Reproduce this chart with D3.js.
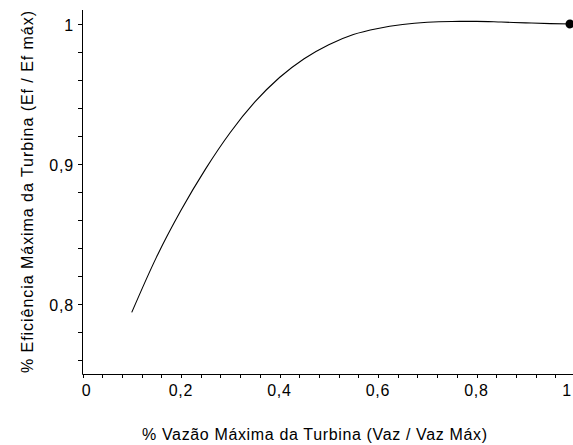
<!DOCTYPE html>
<html><head><meta charset="utf-8">
<script src="https://cdn.jsdelivr.net/npm/d3@7"></script>
<style>body{margin:0;background:#fff;overflow:hidden}svg{display:block}</style>
</head><body>
<svg id="c" width="573" height="445"></svg>
<script>
const xValues = [0.1,0.15,0.2,0.25,0.3,0.35,0.4,0.45,0.5,0.55,0.6,0.65,0.7,0.75,0.8,0.85,0.9,0.95,1.0];
const yValues = [0.794,0.8333,0.8669,0.8965,0.9225,0.9443,0.9618,0.9752,0.9852,0.9925,0.9968,0.9996,1.0012,1.0018,1.0019,1.0014,1.0008,1.0003,1.0];
const markerPoint = [1.0, 1.0];
const xTickLabels = ["0","0,2","0,4","0,6","0,8","1"];
const yTickLabels = ["0,8","0,9","1"];
const xTitle = "% Vazão Máxima da Turbina (Vaz / Vaz Máx)";
const yTitle = "% Eficiência Máxima da Turbina (Ef / Ef máx)";

const svg = d3.select("#c");
const x = d3.scaleLinear().domain([0,1]).range([82.5,575]);
const y = d3.scaleLinear().domain([0.75,1]).range([374,24]);
const font = "'Liberation Sans', Arial, sans-serif";

// axes lines
svg.append("line").attr("x1",x(0)).attr("x2",573).attr("y1",374.5).attr("y2",374.5).attr("stroke","#000");
svg.append("line").attr("x1",82.5).attr("x2",82.5).attr("y1",10).attr("y2",374.5).attr("stroke","#000");

// x ticks
const xt = d3.range(0,1.0001,0.04);
svg.selectAll(".xt").data(xt).join("line")
  .attr("x1",d=>Math.round(x(d))+0.5).attr("x2",d=>Math.round(x(d))+0.5)
  .attr("y1",374.5).attr("y2",378).attr("stroke","#000");
const xMaj = [0,0.2,0.4,0.6,0.8,1];
svg.selectAll(".xl").data(xMaj).join("text")
  .attr("x",d=> d===0 ? x(d)+4 : (d===1 ? 572 : x(d)))
  .attr("y",396)
  .attr("text-anchor",d=> d===1 ? "end" : "middle")
  .attr("font-family",font).attr("font-size",16).attr("letter-spacing",0.8).attr("fill","#000")
  .text((d,i)=>xTickLabels[i]);

// y ticks
const yt = d3.range(0.76,1.0101,0.02);
svg.selectAll(".yt").data(yt).join("line")
  .attr("x1",78).attr("x2",82.5)
  .attr("y1",d=>Math.round(y(d))+0.5).attr("y2",d=>Math.round(y(d))+0.5).attr("stroke","#000");
const yMaj = [0.8,0.9,1.0];
svg.selectAll(".yl").data(yMaj).join("text")
  .attr("x",74).attr("y",d=>y(d)+7)
  .attr("text-anchor","end").attr("font-family",font).attr("font-size",16).attr("letter-spacing",0.8).attr("fill","#000")
  .text((d,i)=>yTickLabels[i]);

// curve
const pts = xValues.map((v,i)=>[v,yValues[i]]);
svg.append("path").datum(pts)
  .attr("d",d3.line().x(d=>x(d[0])).y(d=>y(d[1])).curve(d3.curveMonotoneX))
  .attr("fill","none").attr("stroke","#000").attr("stroke-width",1.1);

svg.append("circle").attr("cx",x(markerPoint[0])-5).attr("cy",y(markerPoint[1])).attr("r",4.5).attr("fill","#000");

// titles
svg.append("text").attr("x",314.5).attr("y",440).attr("text-anchor","middle")
  .attr("font-family",font).attr("font-size",16).attr("fill","#000")
  .attr("textLength",345).attr("lengthAdjust","spacing").text(xTitle);
svg.append("text").attr("transform","translate(33,192) rotate(-90)").attr("text-anchor","middle")
  .attr("font-family",font).attr("font-size",16).attr("fill","#000")
  .attr("textLength",362).attr("lengthAdjust","spacing").text(yTitle);
</script>
</body></html>
